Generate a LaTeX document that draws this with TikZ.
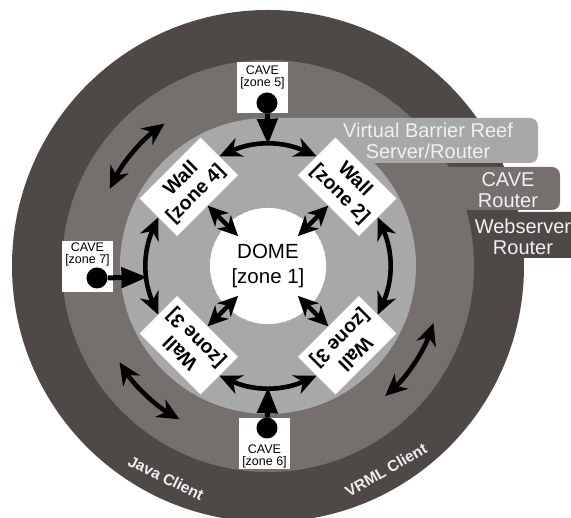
\documentclass[tikz,border=0pt]{standalone}
\usepackage{fontspec}
\setmainfont{Liberation Sans}
\usepackage{tikz}
\usetikzlibrary{positioning,shapes,arrows.meta}

\definecolor{webgrey}{RGB}{78,73,70}
\definecolor{cavegrey}{RGB}{117,112,109}
\definecolor{reefgrey}{RGB}{168,168,168}
\definecolor{labelwhite}{RGB}{240,240,240}

\begin{document}
\begin{tikzpicture}[x=1pt, y=1pt,
		wall/.style={rectangle, fill=white, minimum width=86pt, minimum height=53pt, inner sep=1pt, align=center, font=\fontsize{19.5}{21}\selectfont\bfseries},
		cavebox/.style={rectangle, fill=white, minimum size=51pt, inner sep=0pt},
		cavetext/.style={align=center, inner sep=0pt, font=\fontsize{12.5}{12.5}\selectfont},
		dot/.style={circle, fill=black, minimum size=21pt, inner sep=0pt},
		link/.style={{Stealth[length=22pt,width=20pt,inset=7pt]}-{Stealth[length=22pt,width=20pt,inset=7pt]}, line width=4.6pt},
		spoke/.style={{Stealth[length=20pt,width=19pt,inset=6pt]}-{Stealth[length=20pt,width=19pt,inset=6pt]}, line width=4.4pt},
		feed/.style={-{Triangle[length=26pt,width=20pt]}, line width=5pt},
		router/.style={align=center, text=labelwhite, inner sep=0pt, font=\fontsize{20}{21}\selectfont},
		client/.style={text=labelwhite, inner sep=0pt, font=\fontsize{15.5}{15.5}\selectfont\bfseries}]
		\useasboundingbox (-268,-252) rectangle (303,266);

		\fill[webgrey] (0,0) circle (256pt);
		\fill[webgrey, rounded corners=8pt] (-30,8) rectangle (330,54);
		\fill[cavegrey] (0,0) circle (206pt);
		\fill[cavegrey, rounded corners=8pt] (-30,56) rectangle (292,99);
		\fill[reefgrey] (0,0) circle (148pt);
		\fill[reefgrey] (0,103) -- (262,103) arc[start angle=-90, end angle=0, radius=8pt] -- (270,140) arc[start angle=0, end angle=90, radius=8pt] -- (0,148) -- cycle;
		\draw[white, dashed, line width=0.4pt] (0,0) circle (58pt);

		\node[router] (reef) at (160,125.5) {Virtual Barrier Reef\\Server/Router};
		\node[router] (caverouter) at (240,76) {CAVE\\Router};
		\node[router] (webrouter) at (255,29) {Webserver\\Router};
		\node[client, rotate=-26] (java) at (-102,-212) {Java Client};
		\node[client, rotate=30] (vrml) at (118,-204) {VRML Client};

		\node[circle, fill=white, minimum size=116pt, align=center, font=\fontsize{20.5}{25}\selectfont] (dome) at (0,0) {DOME\\{[zone 1]}};

		\node[wall, rotate=-45] (w2) at (45:112) {Wall\\{[zone 2]}};
		\node[wall, rotate=45] (w4) at (135:112) {Wall\\{[zone 4]}};
		\node[wall, rotate=135] (w3l) at (225:112) {Wall\\{[zone 3]}};
		\node[wall, rotate=225] (w3r) at (315:112) {Wall\\{[zone 3]}};

		\node[cavebox] (c5) at (-5.5,178.5) {};
		\node[cavetext, below=3.5pt of c5.north] (t5) {CAVE\\{[zone 5]}};
		\node[dot] (d5) at (-1,163) {};
		\node[cavebox] (c6) at (-3.5,-178) {};
		\node[cavetext, above=1pt of c6.south] (t6) {CAVE\\{[zone 6]}};
		\node[dot] (d6) at (-1,-162) {};
		\node[cavebox] (c7) at (-180.5,-1) {};
		\node[cavetext, below=1pt of c7.north] (t7) {CAVE\\{[zone 7]}};
		\node[dot] (d7) at (-171,-12) {};

		\draw[link] (w4.east) to[bend left=24] coordinate[pos=0.5] (m5) (w2.west);
		\draw[link] (w2.east) to[bend left=24] (w3r.west);
		\draw[link] (w3r.east) to[bend left=24] coordinate[pos=0.5] (m6) (w3l.west);
		\draw[link] (w3l.east) to[bend left=24] coordinate[pos=0.38] (m7) (w4.west);

		\draw[spoke, shorten >=-16pt] (w2) -- (dome);
		\draw[spoke, shorten >=-16pt] (w4) -- (dome);
		\draw[spoke, shorten >=-16pt] (w3l) -- (dome);
		\draw[spoke, shorten >=-16pt] (w3r) -- (dome);

		\draw[feed] (d5) -- (m5);
		\draw[feed] (d6) -- (m6);
		\draw[feed] (d7) -- (m7);

		\coordinate (o1) at (154:176);
		\coordinate (o2) at (213:177);
		\coordinate (o3) at (341:175);
		\draw[link] (o1) arc[start angle=154, end angle=126, radius=176pt];
		\draw[link] (o2) arc[start angle=213, end angle=240, radius=177pt];
		\draw[link] (o3) arc[start angle=341, end angle=312, radius=175pt];
	\end{tikzpicture}
\end{document}
